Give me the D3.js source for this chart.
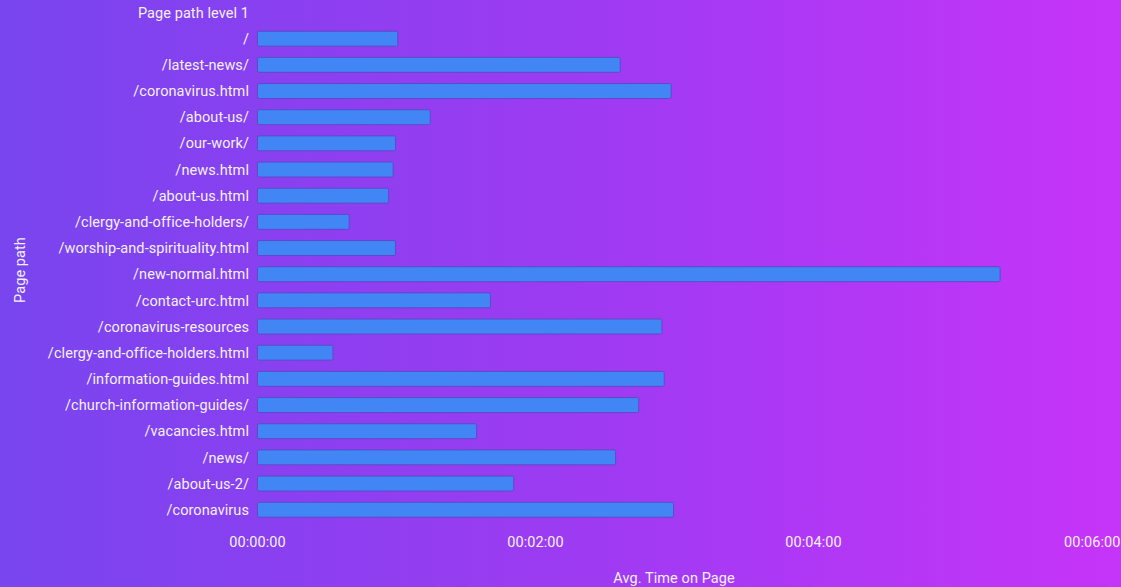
<!DOCTYPE html>
<html>
<head>
<meta charset="utf-8">
<script src="https://cdn.jsdelivr.net/npm/d3@7"></script>
<style>
  html, body { margin: 0; padding: 0; }
  body { width: 1121px; height: 587px; overflow: hidden; }
  svg { display: block; font-family: Roboto, "Noto Sans", sans-serif; }
  text { letter-spacing: 0.08px; }
</style>
</head>
<body>
<svg id="chart" width="1121" height="587"></svg>
<script>
// Page paths and their average time on page (seconds)
const pages = [
  "/", "/latest-news/", "/coronavirus.html", "/about-us/", "/our-work/",
  "/news.html", "/about-us.html", "/clergy-and-office-holders/",
  "/worship-and-spirituality.html", "/new-normal.html", "/contact-urc.html",
  "/coronavirus-resources", "/clergy-and-office-holders.html",
  "/information-guides.html", "/church-information-guides/",
  "/vacancies.html", "/news/", "/about-us-2/", "/coronavirus"
];
const avgSeconds = [
  61, 157, 179, 75, 60,
  59, 57, 40,
  60, 321, 101,
  175, 33,
  176, 165,
  95, 155, 111, 180
];
const tickValues = [0, 120, 240, 360];

const svg = d3.select("#chart");
const W = 1121, H = 587;
const FS = 14.5;

// background gradient
const defs = svg.append("defs");
const grad = defs.append("linearGradient").attr("id", "bg")
  .attr("x1", "0%").attr("y1", "0%").attr("x2", "100%").attr("y2", "0%");
grad.append("stop").attr("offset", "0%").attr("stop-color", "#7845ee");
grad.append("stop").attr("offset", "50%").attr("stop-color", "#9c3bf2");
grad.append("stop").attr("offset", "100%").attr("stop-color", "#c634f9");
svg.append("rect").attr("width", W).attr("height", H).attr("fill", "url(#bg)");

const x = d3.scaleLinear().domain([0, 360]).range([257, 1091]);
const y = d3.scaleBand().domain(pages).range([25.6, 522.8])
  .paddingInner(0.39).paddingOuter(0.195);

const fmt = s => {
  const h = Math.floor(s / 3600), m = Math.floor((s % 3600) / 60), sec = s % 60;
  return [h, m, sec].map(v => String(v).padStart(2, "0")).join(":");
};

const textColor = "#f4f0ff";

// bars
svg.append("g").selectAll("rect")
  .data(pages.map((p, i) => ({ page: p, value: avgSeconds[i] })))
  .join("rect")
  .attr("x", x(0) + 0.5)
  .attr("y", d => y(d.page) + 0.5)
  .attr("width", d => x(d.value) - x(0) - 1)
  .attr("height", y.bandwidth() - 1)
  .attr("rx", 1.5)
  .attr("fill", "#4285f4")
  .attr("stroke", "#5b4bc9")
  .attr("stroke-width", 1);

// category labels
const yAxis = d3.axisLeft(y).tickSize(0).tickPadding(8);
const gy = svg.append("g").attr("transform", `translate(${x(0)},0.5)`).call(yAxis);
gy.select(".domain").remove();
gy.selectAll("text")
  .attr("fill", textColor)
  .attr("font-size", FS)
  .attr("font-family", "Roboto, sans-serif");

// column header
svg.append("text")
  .attr("x", 249).attr("y", y(pages[0]) + y.bandwidth() / 2 - y.step() + 5)
  .attr("text-anchor", "end")
  .attr("fill", textColor).attr("font-size", FS)
  .text("Page path level 1");

// value axis
const xAxis = d3.axisBottom(x).tickValues(tickValues).tickFormat(fmt).tickSize(0).tickPadding(0);
const gx = svg.append("g").attr("transform", "translate(0,536)").call(xAxis);
gx.select(".domain").remove();
gx.selectAll("text")
  .attr("fill", textColor)
  .attr("font-size", FS)
  .attr("font-family", "Roboto, sans-serif")
  .attr("dy", "0.78em");
// last tick label sits flush with the right edge
gx.selectAll(".tick").filter(d => d === 360).select("text").attr("text-anchor", "end").attr("x", 29);

// axis titles
svg.append("text")
  .attr("x", (x.range()[0] + x.range()[1]) / 2).attr("y", 583)
  .attr("text-anchor", "middle")
  .attr("fill", textColor).attr("font-size", FS)
  .text("Avg. Time on Page");

svg.append("text")
  .attr("transform", "translate(25,270) rotate(-90)")
  .attr("text-anchor", "middle")
  .attr("fill", textColor).attr("font-size", FS)
  .text("Page path");
</script>
</body>
</html>
